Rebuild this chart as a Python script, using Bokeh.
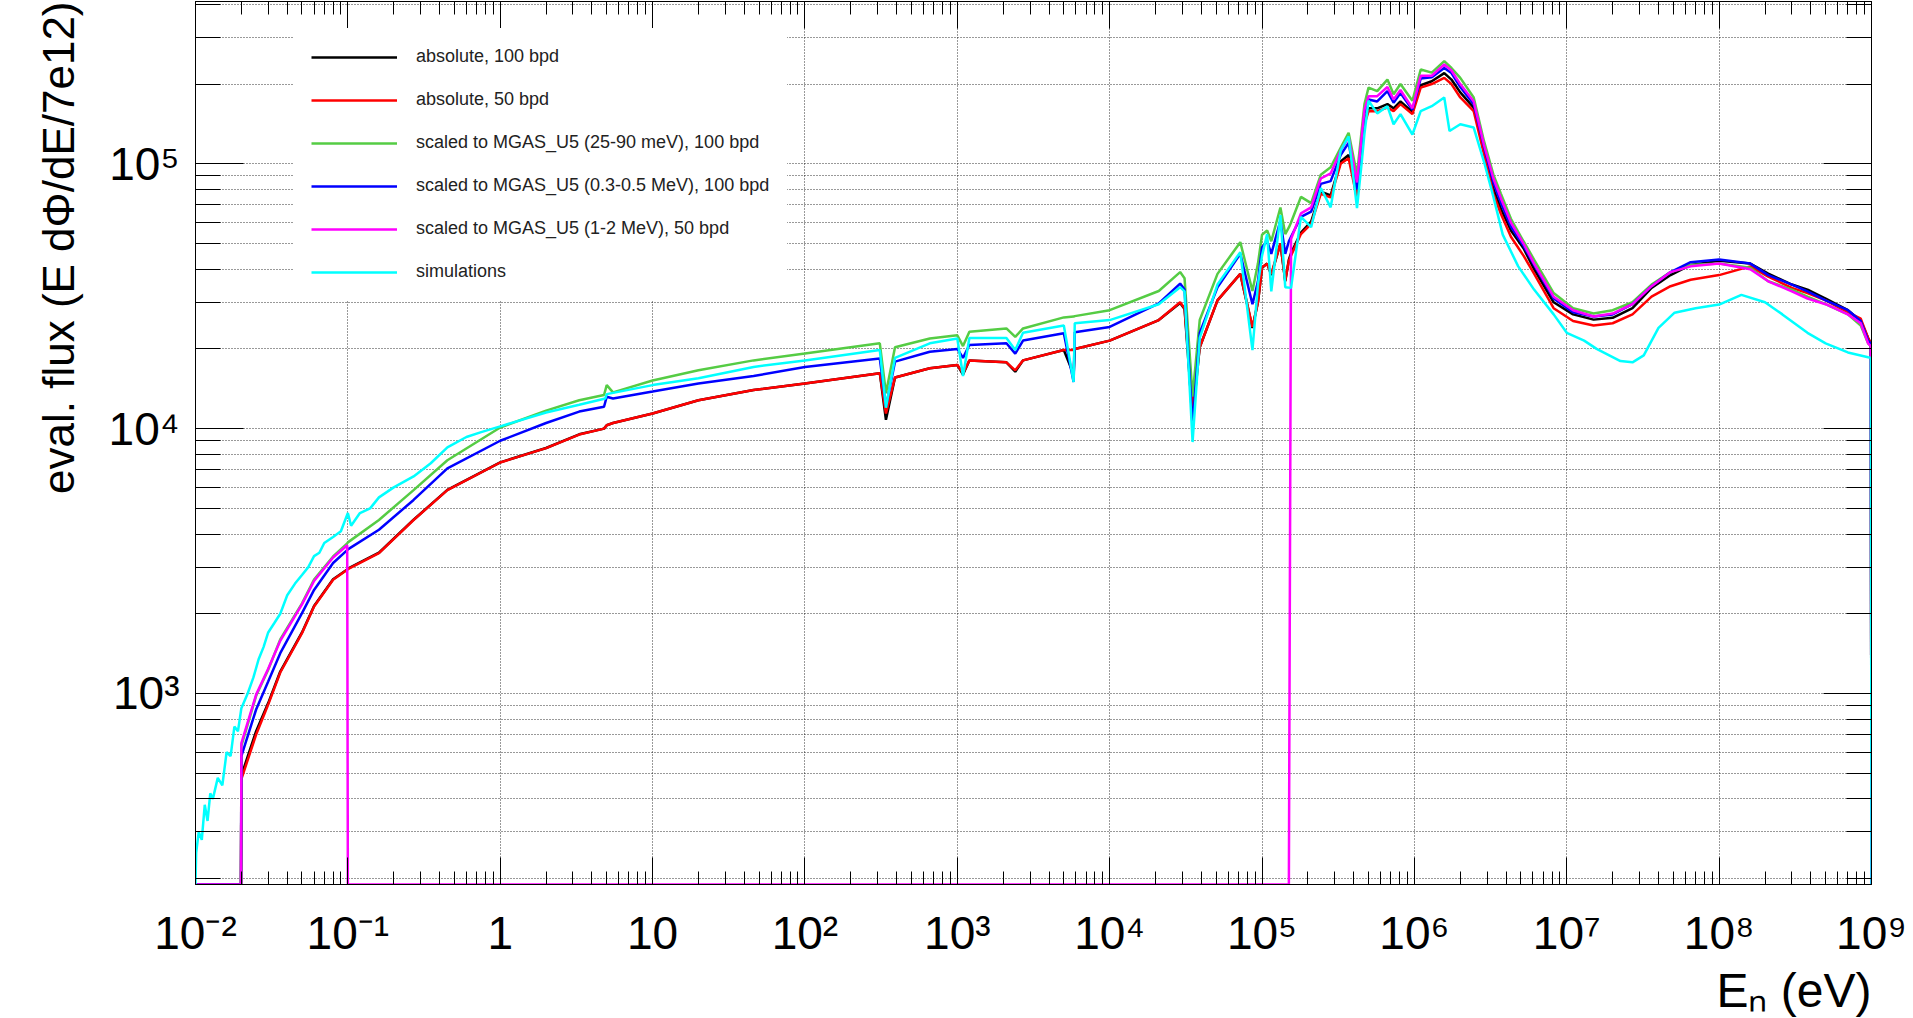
from bokeh.plotting import figure
from bokeh.models import (Range1d, LogAxis, FixedTicker, Legend, LegendItem, Title,
                          CustomJSTickFormatter)
from bokeh.embed import file_html
from bokeh.resources import INLINE

# ---------------- data ----------------
energy_ev = [
    0.01, 0.0199, 0.02, 0.025, 0.03, 0.036, 0.05, 0.06, 0.08, 0.099,
    0.1, 0.16, 0.27, 0.45, 1.0, 2.0, 3.3, 4.8, 5.0, 5.5,
    10, 20, 46, 100, 310, 340, 390, 660, 1000, 1090,
    1200, 2100, 2400, 2700, 5000, 5800, 5900, 1e4, 2.1e4, 2.9e4,
    3.1e4, 3.5e4, 3.9e4, 5.1e4, 7.2e4, 8.65e4, 9.4e4, 1.0e5, 1.08e5, 1.15e5,
    1.32e5, 1.42e5, 1.5e5, 1.55e5, 1.8e5, 2.1e5, 2.43e5, 2.82e5, 3.28e5, 3.7e5,
    4.2e5, 4.7e5, 5.0e5, 5.7e5, 6.65e5, 7.3e5, 8.1e5, 9.7e5, 1.1e6, 1.3e6,
    1.57e6, 1.75e6, 2.0e6, 2.45e6, 2.86e6, 3.3e6, 3.7e6, 4.3e6, 5.2e6, 6.1e6,
    8.2e6, 1.1e7, 1.5e7, 2.0e7, 2.7e7, 3.6e7, 4.8e7, 6.5e7, 1.0e8, 1.6e8,
    2.1e8, 3.0e8, 3.8e8, 5.0e8, 7.0e8, 8.5e8, 9.5e8, 9.9e8, 1.0e9]

flux_abs_100bpd = [
    0, 0, 490, 720, 920, 1210, 1700, 2140, 2700, 2940,
    2960, 3400, 4530, 5870, 7460, 8450, 9520, 10000, 10300, 10500,
    11400, 12800, 14000, 14800, 16200, 10800, 15600, 16900, 17400, 16000,
    18100, 17800, 16400, 18100, 19800, 16000, 20000, 21500, 25700, 29800,
    28300, 11000, 20300, 30500, 38400, 24000, 30000, 40500, 42000, 38000,
    50000, 36000, 43500, 46000, 55000, 60500, 78500, 76000, 102000, 108000,
    76000, 144000, 162000, 162000, 168000, 162000, 172000, 157000, 198000, 205000,
    220000, 208000, 186000, 163000, 113000, 80500, 67500, 56000, 48000, 40000,
    30000, 27000, 25800, 26200, 28500, 34000, 38000, 41500, 43000, 42000,
    38500, 35000, 33500, 31000, 28000, 25500, 22000, 21000, 0]

flux_abs_50bpd = [
    0, 0, 475, 700, 908, 1200, 1690, 2130, 2690, 2930,
    2950, 3390, 4520, 5860, 7450, 8440, 9500, 10000, 10300, 10500,
    11400, 12800, 14000, 14800, 16200, 11400, 15600, 16900, 17400, 16200,
    18100, 17800, 16600, 18100, 19800, 19800, 20000, 21500, 25700, 30000,
    28500, 12100, 20300, 30500, 38400, 24200, 30000, 40700, 41900, 38400,
    50000, 36300, 43000, 45000, 54300, 59300, 77000, 74700, 100000, 105000,
    74000, 141000, 158000, 158000, 163000, 158000, 168000, 154000, 194000, 200000,
    211000, 200000, 178000, 158000, 109000, 77000, 64600, 53000, 45000, 38500,
    28500, 25500, 24500, 25000, 27000, 31500, 34500, 36500, 38000, 41000,
    37500, 34000, 32500, 30500, 27500, 26000, 22000, 21000, 0]

flux_scaled_thermal = [
    0, 0, 634, 980, 1230, 1600, 2190, 2690, 3290, 3690,
    3720, 4520, 5860, 7600, 10100, 11700, 12800, 13400, 14600, 13700,
    15200, 16600, 18100, 19200, 21000, 13600, 20300, 21900, 22500, 20500,
    23200, 23900, 22200, 23900, 26300, 26500, 26600, 28000, 33100, 39000,
    37000, 13200, 25700, 38400, 50600, 33100, 42000, 54000, 56000, 51000,
    68400, 54300, 57500, 60000, 75000, 71000, 91000, 97000, 115000, 131000,
    91000, 168000, 194000, 188000, 208000, 183000, 200000, 173000, 227000, 221000,
    244000, 230000, 211000, 178000, 122000, 91000, 77000, 62000, 51000, 43500,
    32500, 28500, 27200, 28000, 30000, 35000, 39000, 41500, 42000, 40500,
    36000, 33500, 31500, 29500, 27000, 24500, 21000, 20500, 0]

flux_scaled_03_05 = [
    0, 0, 580, 870, 1110, 1420, 2010, 2460, 3110, 3480,
    3500, 4150, 5380, 7080, 9000, 10500, 11600, 12100, 13200, 13000,
    13800, 14800, 15800, 17100, 18400, 12100, 17900, 19500, 20000, 18500,
    20700, 21000, 19200, 21500, 22900, 15000, 23100, 24200, 29700, 35300,
    33500, 10200, 23000, 34200, 45700, 29500, 36000, 48400, 51000, 45700,
    61000, 45700, 51000, 53000, 63000, 66000, 84000, 86000, 108000, 120000,
    80000, 155000, 175000, 172000, 188000, 170000, 185000, 160000, 210000, 212000,
    230000, 220000, 195000, 168000, 116000, 85000, 71000, 58000, 49000, 41500,
    31000, 27500, 26500, 27000, 29500, 34500, 39000, 42500, 43500, 42000,
    38000, 35000, 33000, 30500, 28000, 25500, 21500, 21000, 0]

flux_scaled_1_2 = [
    0, 0, 650, 990, 1240, 1580, 2170, 2660, 3260, 3630,
    0, 0, 0, 0, 0, 0, 0, 0, 0, 0,
    0, 0, 0, 0, 0, 0, 0, 0, 0, 0,
    0, 0, 0, 0, 0, 0, 0, 0, 0, 0,
    0, 0, 0, 0, 0, 0, 0, 0, 0, 0,
    0, 0, 0, 52000, 65000, 68500, 88000, 92000, 112000, 126000,
    85000, 160000, 180000, 180000, 195000, 175000, 190000, 162000, 215000, 215000,
    237000, 225000, 200000, 172000, 118000, 88000, 74000, 60000, 50000, 42000,
    31500, 28000, 26500, 27200, 29500, 34500, 39000, 41000, 42000, 40000,
    36000, 33000, 31000, 29500, 27000, 25000, 21000, 20500, 0]

sim_energy_ev = [
    0.01, 0.0101, 0.0105, 0.011, 0.0115, 0.012, 0.0125, 0.013, 0.014, 0.015,
    0.016, 0.017, 0.018, 0.019, 0.02, 0.022, 0.024, 0.026, 0.028, 0.03,
    0.033, 0.036, 0.04, 0.045, 0.05, 0.055, 0.06, 0.065, 0.07, 0.08,
    0.09, 0.1, 0.105, 0.12, 0.14, 0.16, 0.2, 0.27, 0.35, 0.45,
    0.6, 0.75, 1.0, 2.0, 3.3, 4.9, 5.0, 10, 20, 46,
    100, 310, 340, 390, 660, 1000, 1090, 1200, 2100, 2400,
    2700, 5000, 5800, 5900, 1e4, 2.1e4, 2.9e4, 3.1e4, 3.5e4, 3.9e4,
    5.1e4, 7.2e4, 8.65e4, 9.4e4, 1.0e5, 1.08e5, 1.15e5, 1.32e5, 1.42e5, 1.55e5,
    1.8e5, 2.1e5, 2.43e5, 2.82e5, 3.28e5, 3.7e5, 4.2e5, 4.5e5, 4.7e5, 5.0e5,
    5.7e5, 6.65e5, 7.3e5, 8.1e5, 9.7e5, 1.1e6, 1.3e6, 1.57e6, 1.7e6, 2.0e6,
    2.45e6, 2.86e6, 3.3e6, 3.8e6, 4.8e6, 6.1e6, 8.2e6, 1.0e7, 1.3e7, 1.57e7,
    2.25e7, 2.7e7, 3.2e7, 4.0e7, 5.1e7, 7e7, 1e8, 1.4e8, 2.0e8, 2.6e8,
    3.8e8, 5e8, 7e8, 9.5e8, 9.9e8, 1e9]

sim_flux = [
    0, 250, 300, 280, 380, 330, 420, 400, 480, 450,
    600, 580, 750, 720, 880, 1000, 1150, 1350, 1500, 1700,
    1850, 2000, 2350, 2600, 2800, 3000, 3300, 3400, 3700, 3900,
    4100, 4800, 4300, 4800, 5000, 5500, 6000, 6600, 7400, 8500,
    9300, 9700, 10200, 11500, 12300, 13000, 13500, 14600, 15500, 17100,
    18100, 19800, 12000, 18500, 21000, 21900, 15800, 22000, 22000, 19800,
    23000, 24500, 15000, 25000, 25700, 29500, 34200, 33000, 8900, 22000,
    35000, 46400, 19800, 35000, 45000, 54300, 33000, 64000, 34200, 34000,
    63000, 57600, 81000, 68500, 112000, 127000, 68000, 100000, 130000, 173000,
    155000, 165000, 141000, 154000, 129000, 158000, 165000, 178000, 133000, 141000,
    137000, 102000, 75000, 54000, 41000, 33500, 27000, 23000, 21500, 20000,
    18000, 17800, 18900, 24000, 27400, 28500, 29400, 32000, 30000, 27000,
    23000, 21000, 19400, 18600, 18500, 0]

series_labels = [
    "absolute, 100 bpd",
    "absolute, 50 bpd",
    "scaled to MGAS_U5 (25-90 meV), 100 bpd",
    "scaled to MGAS_U5 (0.3-0.5 MeV), 100 bpd",
    "scaled to MGAS_U5 (1-2 MeV), 50 bpd",
    "simulations",
]
series_colors = ["#000000", "#ff0000", "#55cc44", "#0000ff", "#ff00ff", "#00ffff"]

x_major_exponents = list(range(-2, 10))
y_major_exponents = [3, 4, 5]
x_title = "E\u2099 (eV)"
y_title = "eval. flux (E d\u03a6/dE/7e12)"

X_MIN, X_MAX = 1e-2, 1e9
Y_MIN, Y_MAX = 190.0, 4.1e5

FONT = "Liberation Sans"

SUP = {"-": "\u207b", "0": "\u2070", "1": "\u00b9", "2": "\u00b2", "3": "\u00b3",
       "4": "\u2074", "5": "\u2075", "6": "\u2076", "7": "\u2077", "8": "\u2078",
       "9": "\u2079"}


def pow_label(k):
    if k == 0:
        return "1"
    if k == 1:
        return "10"
    return "10" + "".join(SUP[c] for c in str(k))


# ---------------- figure ----------------
p = figure(width=1913, height=1018, x_axis_type="log", y_axis_type="log",
           x_range=Range1d(X_MIN, X_MAX), y_range=Range1d(Y_MIN, Y_MAX),
           output_backend="svg", toolbar_location=None,
           min_border_left=195, min_border_right=42,
           min_border_top=1, min_border_bottom=134)
p.background_fill_color = "white"
p.border_fill_color = "white"
p.outline_line_color = "black"
p.outline_line_width = 1

x_major = [10.0 ** k for k in x_major_exponents]
x_minor = [m * 10.0 ** k for k in x_major_exponents[:-1] for m in range(2, 10)]
y_major = [10.0 ** k for k in y_major_exponents]
y_minor = [m * 10.0 ** k for k in range(2, 6) for m in range(2, 10)
           if Y_MIN <= m * 10.0 ** k <= Y_MAX]

xt = FixedTicker(ticks=x_major, minor_ticks=x_minor)
yt = FixedTicker(ticks=y_major, minor_ticks=y_minor)


def style_axis(ax, horizontal, labelled):
    ax.ticker = xt if horizontal else yt
    ax.axis_line_color = "black"
    ax.axis_line_width = 1
    ax.major_tick_line_color = "black"
    ax.minor_tick_line_color = "black"
    ax.major_tick_out = 0
    ax.minor_tick_out = 0
    ax.major_tick_in = 27 if horizontal else 48
    ax.minor_tick_in = 13 if horizontal else 25
    if labelled:
        exps = x_major_exponents if horizontal else y_major_exponents
        ax.major_label_overrides = {10.0 ** k: pow_label(k) for k in exps}
        ax.major_label_text_font = FONT
        ax.major_label_text_font_size = "46px"
        ax.major_label_text_color = "black"
        ax.major_label_standoff = 22 if horizontal else 16
    else:
        ax.formatter = CustomJSTickFormatter(code="return ' ';")
        ax.major_label_text_font_size = "1px"
        ax.major_label_standoff = -8


style_axis(p.xaxis[0], True, True)
style_axis(p.yaxis[0], False, True)
top_axis = LogAxis()
style_axis(top_axis, True, False)
p.add_layout(top_axis, "above")
right_axis = LogAxis()
style_axis(right_axis, False, False)
p.add_layout(right_axis, "right")

p.xgrid.ticker = xt
p.ygrid.ticker = yt
for g in (p.xgrid[0], p.ygrid[0]):
    g.grid_line_color = "#000000"
    g.grid_line_alpha = 0.8
    g.grid_line_dash = "1 2"
    g.grid_line_width = 1
p.ygrid.minor_grid_line_color = "#000000"
p.ygrid.minor_grid_line_alpha = 0.8
p.ygrid.minor_grid_line_dash = "1 2"
p.xgrid.minor_grid_line_color = None

# axis titles
p.add_layout(Title(text=y_title, align="right", vertical_align="top", text_font=FONT,
                   text_font_size="44px", text_font_style="normal", text_color="black",
                   standoff=41), "left")
p.add_layout(Title(text=x_title, align="right", text_font=FONT, text_font_size="48px",
                   text_font_style="normal", text_color="black", standoff=0), "below")

# ---------------- curves ----------------
def clip(vals):
    return [v if v > Y_MIN else Y_MIN for v in vals]


all_series = [
    (energy_ev, flux_abs_100bpd),
    (energy_ev, flux_abs_50bpd),
    (energy_ev, flux_scaled_thermal),
    (energy_ev, flux_scaled_03_05),
    (energy_ev, flux_scaled_1_2),
    (sim_energy_ev, sim_flux),
]
renderers = []
for (xs, ys), col in zip(all_series, series_colors):
    r = p.line(xs, clip(ys), line_color=col, line_width=2.5)
    renderers.append(r)

legend = Legend(items=[LegendItem(label=lab, renderers=[r])
                       for lab, r in zip(series_labels, renderers)],
                location=(98, 584))
legend.glyph_width = 86
legend.glyph_height = 20
legend.label_height = 20
legend.spacing = 22
legend.padding = 18
legend.margin = 0
legend.label_standoff = 19
legend.label_text_font = FONT
legend.label_text_font_size = "18px"
legend.label_text_color = "#222222"
legend.border_line_alpha = 0
legend.background_fill_color = "white"
legend.background_fill_alpha = 1.0
p.add_layout(legend)

open("out.html", "w").write(file_html(p, INLINE))
